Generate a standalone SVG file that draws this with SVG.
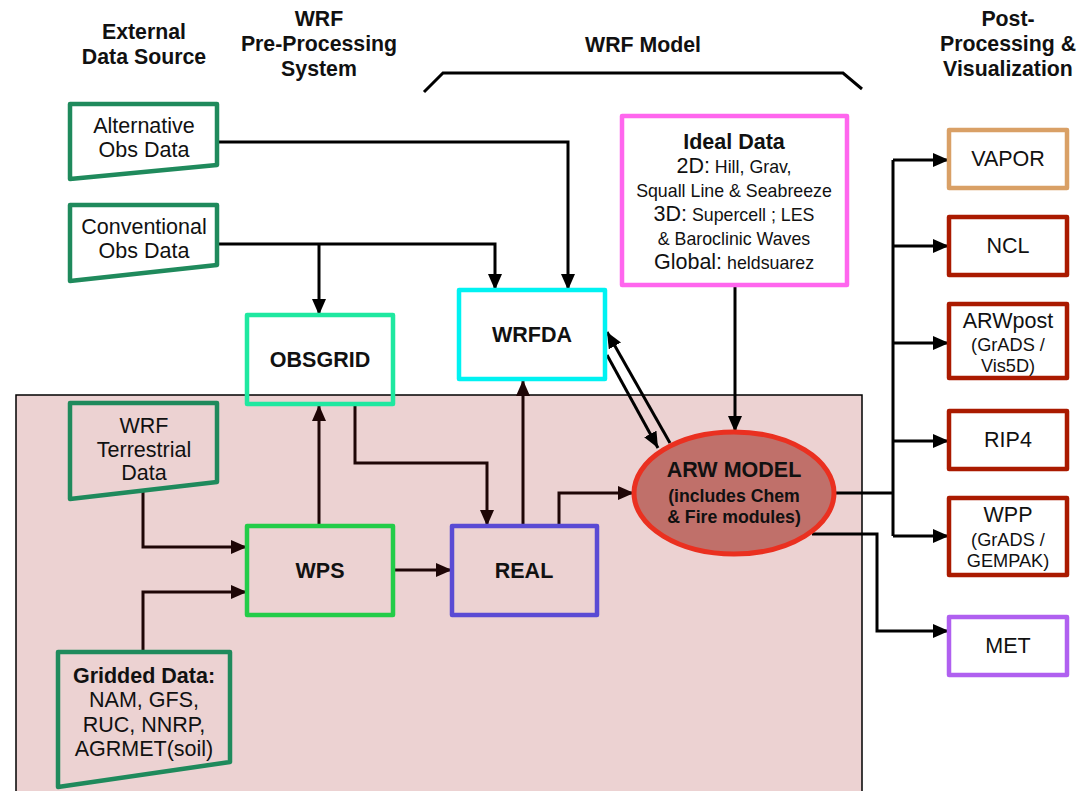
<svg xmlns="http://www.w3.org/2000/svg" width="1079" height="791" viewBox="0 0 1079 791">
<style>
text{font-family:"Liberation Sans",Arial,sans-serif;fill:#111;text-anchor:middle}
.h{font-size:21.3px;font-weight:bold}
.b{font-size:21.5px;font-weight:bold}
.r{font-size:21.5px}
.s{font-size:17.8px}
.s2{font-size:18.2px}
.sb{font-size:17.7px;font-weight:bold}
.trap{fill:none;stroke:#1f8a5c;stroke-width:4.5;stroke-linejoin:round}
.box{stroke-width:4.5;stroke-linejoin:round}
.c{fill:none;stroke:#000;stroke-width:3}
.cp{fill:none;stroke:#1e0606;stroke-width:3}
</style>
<defs>
<marker id="a" markerUnits="userSpaceOnUse" markerWidth="18" markerHeight="16" refX="16" refY="7" orient="auto">
<path d="M0,0 L16,7 L0,14 Z" fill="#000"/>
</marker>
<marker id="ap" markerUnits="userSpaceOnUse" markerWidth="18" markerHeight="16" refX="16" refY="7" orient="auto">
<path d="M0,0 L16,7 L0,14 Z" fill="#1e0606"/>
</marker>
</defs>
<rect x="0" y="0" width="1079" height="791" fill="#fff"/>
<rect id="wrf-region" x="16" y="395" width="846" height="400" fill="#ecd2d2" stroke="#000" stroke-width="1.5"/>

<g id="headers">
<text class="h" x="144" y="39">External</text>
<text class="h" x="144" y="64">Data Source</text>
<text class="h" x="319" y="26">WRF</text>
<text class="h" x="319" y="51">Pre-Processing</text>
<text class="h" x="319" y="76">System</text>
<text class="h" x="643" y="52">WRF Model</text>
<text class="h" x="1008" y="26">Post-</text>
<text class="h" x="1008" y="51">Processing &amp;</text>
<text class="h" x="1008" y="76">Visualization</text>
<polyline points="424,92 443,73 843,73 862,89" fill="none" stroke="#000" stroke-width="3"/>
</g>

<g id="connectors">
<polyline class="c" points="217,142 568,142 568,290" marker-end="url(#a)"/>
<polyline class="c" points="217,244 495,244 495,290" marker-end="url(#a)"/>
<polyline class="c" points="319,244 319,315" marker-end="url(#a)"/>
<polyline class="cp" points="143,490 143,547 247,547" marker-end="url(#ap)"/>
<polyline class="cp" points="143,652 143,592 247,592" marker-end="url(#ap)"/>
<polyline class="cp" points="319,526 319,405" marker-end="url(#ap)"/>
<polyline class="cp" points="355,405 355,463 487,463 487,526" marker-end="url(#ap)"/>
<polyline class="cp" points="393,570 452,570" marker-end="url(#ap)"/>
<polyline class="cp" points="523,526 523,380" marker-end="url(#ap)"/>
<polyline class="cp" points="559,526 559,493 634,493" marker-end="url(#ap)"/>
<polyline class="c" points="735,286 735,432" marker-end="url(#a)"/>
<polyline class="c" points="607,355 658,448" marker-end="url(#a)"/>
<polyline class="c" points="670,443 607,332" marker-end="url(#a)"/>
<polyline class="c" points="834,493 893,493"/>
<polyline class="c" points="893,160 893,536"/>
<polyline class="c" points="893,160 949,160" marker-end="url(#a)"/>
<polyline class="c" points="893,246 949,246" marker-end="url(#a)"/>
<polyline class="c" points="893,343 949,343" marker-end="url(#a)"/>
<polyline class="c" points="893,441 949,441" marker-end="url(#a)"/>
<polyline class="c" points="893,536 949,536" marker-end="url(#a)"/>
<polyline class="c" points="812,534 877,534 877,631 949,631" marker-end="url(#a)"/>
</g>

<g id="alt-obs">
<path class="trap" d="M70,104 L217,104 L217,165 L70,179 Z" fill="#fff"/>
<text class="r" x="144" y="133">Alternative</text>
<text class="r" x="144" y="157">Obs Data</text>
</g>
<g id="conv-obs">
<path class="trap" d="M70,205 L217,205 L217,265 L70,281 Z"/>
<text class="r" x="144" y="234">Conventional</text>
<text class="r" x="144" y="258">Obs Data</text>
</g>
<g id="terrestrial">
<path class="trap" d="M70,403 L217,403 L217,482 L70,499 Z"/>
<text class="r" x="144" y="433">WRF</text>
<text class="r" x="144" y="457">Terrestrial</text>
<text class="r" x="144" y="480">Data</text>
</g>
<g id="gridded">
<path class="trap" d="M58,652 L230,652 L230,762 L58,787 Z"/>
<text class="b" x="144" y="683">Gridded Data:</text>
<text class="r" x="144" y="707">NAM, GFS,</text>
<text class="r" x="144" y="732">RUC, NNRP,</text>
<text class="r" x="144" y="756">AGRMET(soil)</text>
</g>

<g id="obsgrid">
<rect class="box" x="247" y="315" width="146" height="89" fill="none" stroke="#1fe8a0"/>
<text class="b" x="320" y="367">OBSGRID</text>
</g>
<g id="wps">
<rect class="box" x="247" y="526" width="146" height="89" fill="none" stroke="#22cc48"/>
<text class="b" x="320" y="578">WPS</text>
</g>
<g id="wrfda">
<rect class="box" x="459" y="290" width="146" height="89" fill="#fff" stroke="#00f2f2"/>
<text class="b" x="532" y="342">WRFDA</text>
</g>
<g id="real">
<rect class="box" x="452" y="526" width="145" height="89" fill="none" stroke="#5a4bd4"/>
<text class="b" x="524" y="578">REAL</text>
</g>
<g id="ideal">
<rect class="box" x="622" y="116" width="225" height="169" fill="#fff" stroke="#ff66ee"/>
<text class="b" x="734" y="149">Ideal Data</text>
<text x="734" y="173"><tspan class="r">2D:</tspan><tspan class="s"> Hill, Grav,</tspan></text>
<text class="s" x="734" y="197">Squall Line &amp; Seabreeze</text>
<text x="734" y="221"><tspan class="r">3D:</tspan><tspan class="s"> Supercell ; LES</tspan></text>
<text class="s" x="734" y="245">&amp; Baroclinic Waves</text>
<text x="734" y="269"><tspan class="r">Global:</tspan><tspan class="s"> heldsuarez</tspan></text>
</g>
<g id="arw">
<ellipse cx="734" cy="493" rx="100" ry="61" fill="#c0706a" stroke="#ea3020" stroke-width="5"/>
<text class="b" x="734" y="477">ARW MODEL</text>
<text class="sb" x="734" y="502">(includes Chem</text>
<text class="sb" x="734" y="523">&amp; Fire modules)</text>
</g>

<g id="vapor">
<rect class="box" x="949" y="130" width="118" height="58" fill="#fff" stroke="#d9a066"/>
<text class="r" x="1008" y="166">VAPOR</text>
</g>
<g id="ncl">
<rect class="box" x="949" y="217" width="118" height="58" fill="#fff" stroke="#aa1a00"/>
<text class="r" x="1008" y="253">NCL</text>
</g>
<g id="arwpost">
<rect class="box" x="949" y="304" width="118" height="74" fill="#fff" stroke="#aa1a00"/>
<text class="r" x="1008" y="328">ARWpost</text>
<text class="s2" x="1008" y="351">(GrADS /</text>
<text class="s2" x="1008" y="372">Vis5D)</text>
</g>
<g id="rip4">
<rect class="box" x="949" y="411" width="118" height="58" fill="#fff" stroke="#aa1a00"/>
<text class="r" x="1008" y="447">RIP4</text>
</g>
<g id="wpp">
<rect class="box" x="949" y="498" width="118" height="77" fill="#fff" stroke="#aa1a00"/>
<text class="r" x="1008" y="522">WPP</text>
<text class="s2" x="1008" y="546">(GrADS /</text>
<text class="s2" x="1008" y="567">GEMPAK)</text>
</g>
<g id="met">
<rect class="box" x="949" y="617" width="118" height="58" fill="#fff" stroke="#b060f0"/>
<text class="r" x="1008" y="653">MET</text>
</g>
</svg>
